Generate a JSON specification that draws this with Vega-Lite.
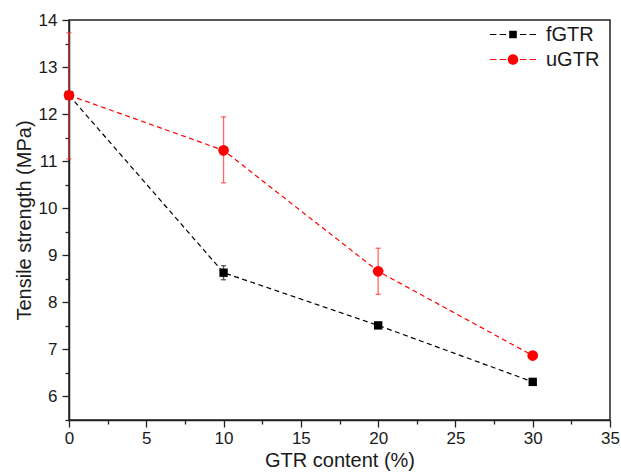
{
  "$schema": "https://vega.github.io/schema/vega-lite/v6.json",
  "autosize": {"type": "none"},
  "padding": {"left": 69, "top": 20, "right": 11, "bottom": 52},
  "width": 541,
  "height": 400,
  "background": "white",
  "data": {
    "values": [
      {"series": "fGTR", "x": 0, "y": 12.4, "lo": 12.35, "hi": 12.45},
      {"series": "fGTR", "x": 10, "y": 8.63, "lo": 8.48, "hi": 8.78},
      {"series": "fGTR", "x": 20, "y": 7.51, "lo": 7.45, "hi": 7.57},
      {"series": "fGTR", "x": 30, "y": 6.31, "lo": 6.27, "hi": 6.35},
      {"series": "uGTR", "x": 0, "y": 12.4, "lo": 11.05, "hi": 13.73},
      {"series": "uGTR", "x": 10, "y": 11.23, "lo": 10.54, "hi": 11.94},
      {"series": "uGTR", "x": 20, "y": 8.66, "lo": 8.17, "hi": 9.15},
      {"series": "uGTR", "x": 30, "y": 6.87, "lo": 6.84, "hi": 6.9}
    ]
  },
  "layer": [
    {
      "mark": {"type": "point", "filled": true, "opacity": 0},
      "encoding": {
        "x": {"field": "x", "type": "quantitative", "scale": {"domain": [0, 35], "nice": false, "zero": false},
          "axis": {"orient": "bottom", "title": "GTR content (%)", "format": ".0f",
            "values": [0, 2.5, 5, 7.5, 10, 12.5, 15, 17.5, 20, 22.5, 25, 27.5, 30, 32.5, 35],
            "labelExpr": "datum.value % 5 == 0 ? datum.label : ''",
            "tickSize": {"condition": {"test": "datum.value % 5 == 0", "value": 7}, "value": 4},
            "labelOverlap": false, "labelFlush": false, "labelPadding": 3, "titlePadding": 4}},
        "y": {"field": "y", "type": "quantitative", "scale": {"domain": [5.5, 14], "nice": false, "zero": false},
          "axis": {"orient": "left", "title": "Tensile strength (MPa)", "format": ".0f",
            "values": [5.5, 6, 6.5, 7, 7.5, 8, 8.5, 9, 9.5, 10, 10.5, 11, 11.5, 12, 12.5, 13, 13.5, 14],
            "labelExpr": "datum.value % 1 == 0 ? datum.label : ''",
            "tickSize": {"condition": {"test": "datum.value % 1 == 0", "value": 7}, "value": 4},
            "labelOverlap": false, "labelFlush": false, "labelPadding": 5, "titlePadding": 4}},
        "color": {"field": "series", "type": "nominal", "scale": {"domain": ["fGTR", "uGTR"], "range": ["#000000", "#ff0000"]},
          "legend": {"title": null, "orient": "none", "legendX": 421, "legendY": 3, "symbolOpacity": 1}},
        "shape": {"field": "series", "type": "nominal",
          "scale": {"domain": ["fGTR", "uGTR"], "range": [
            "M-1,-0.026H-0.72V0.026H-1Z M-0.58,-0.026H-0.3V0.026H-0.58Z M0.3,-0.026H0.58V0.026H0.3Z M0.72,-0.026H1V0.026H0.72Z M-0.165,-0.165H0.165V0.165H-0.165Z",
            "M-1,-0.026H-0.72V0.026H-1Z M-0.58,-0.026H-0.3V0.026H-0.58Z M0.3,-0.026H0.58V0.026H0.3Z M0.72,-0.026H1V0.026H0.72Z M0.23,0A0.23,0.23 0 1,1 -0.23,0A0.23,0.23 0 1,1 0.23,0Z"
          ]},
          "legend": {"title": null, "orient": "none", "legendX": 421, "legendY": 3, "symbolOpacity": 1}}
      }
    },
    {
      "transform": [{"filter": "datum.series == 'fGTR'"}],
      "mark": {"type": "line", "color": "#000000", "strokeDash": [5, 3.5], "strokeWidth": 1.2, "clip": false},
      "encoding": {
        "x": {"field": "x", "type": "quantitative", "axis": null},
        "y": {"field": "y", "type": "quantitative", "axis": null}
      }
    },
    {
      "transform": [{"filter": "datum.series == 'uGTR'"}],
      "mark": {"type": "line", "color": "#ff0000", "strokeDash": [5, 3.5], "strokeWidth": 1.2, "clip": false},
      "encoding": {
        "x": {"field": "x", "type": "quantitative", "axis": null},
        "y": {"field": "y", "type": "quantitative", "axis": null}
      }
    },
    {
      "transform": [{"filter": "datum.series == 'fGTR'"}],
      "mark": {"type": "errorbar", "ticks": true, "thickness": 1.3, "color": "#333333", "opacity": 0.8, "clip": false},
      "encoding": {
        "x": {"field": "x", "type": "quantitative", "axis": null},
        "y": {"field": "lo", "type": "quantitative", "axis": null},
        "y2": {"field": "hi"}
      }
    },
    {
      "transform": [{"filter": "datum.series == 'uGTR'"}],
      "mark": {"type": "errorbar", "ticks": true, "thickness": 1.3, "color": "#ff3333", "opacity": 0.75, "clip": false},
      "encoding": {
        "x": {"field": "x", "type": "quantitative", "axis": null},
        "y": {"field": "lo", "type": "quantitative", "axis": null},
        "y2": {"field": "hi"}
      }
    },
    {
      "transform": [{"filter": "datum.series == 'fGTR'"}],
      "mark": {"type": "point", "shape": "square", "filled": true, "color": "#000000", "opacity": 1, "size": 70, "clip": false},
      "encoding": {
        "x": {"field": "x", "type": "quantitative", "axis": null},
        "y": {"field": "y", "type": "quantitative", "axis": null}
      }
    },
    {
      "transform": [{"filter": "datum.series == 'uGTR'"}],
      "mark": {"type": "point", "shape": "circle", "filled": true, "color": "#ff0000", "opacity": 1, "size": 115, "clip": false},
      "encoding": {
        "x": {"field": "x", "type": "quantitative", "axis": null},
        "y": {"field": "y", "type": "quantitative", "axis": null}
      }
    }
  ],
  "resolve": {"axis": {"x": "independent", "y": "independent"}},
  "config": {
    "view": {"stroke": "#222222", "strokeWidth": 1.5},
    "font": "Liberation Sans",
    "axis": {
      "grid": false,
      "domainColor": "#222222",
      "domainWidth": 1.5,
      "tickColor": "#222222",
      "tickWidth": 1.3,
      "labelFont": "Liberation Sans",
      "labelFontSize": 17,
      "labelColor": "#1a1a1a",
      "titleFont": "Liberation Sans",
      "titleFontSize": 20,
      "titleFontWeight": "normal",
      "titleColor": "#1a1a1a"
    },
    "legend": {
      "padding": 0,
      "symbolSize": 2116,
      "symbolStrokeWidth": 0,
      "clipHeight": 23,
      "rowPadding": 2,
      "labelOffset": 10,
      "labelFont": "Liberation Sans",
      "labelFontSize": 20,
      "labelColor": "#1a1a1a"
    }
  }
}
